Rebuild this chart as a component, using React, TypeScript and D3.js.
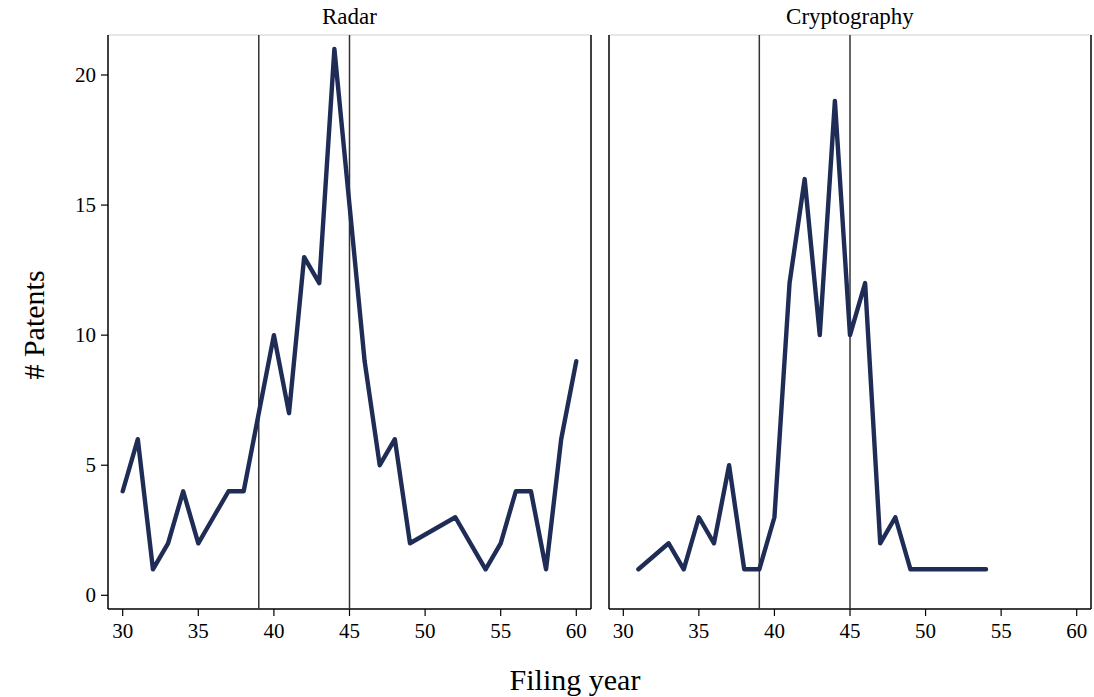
import React from 'react';
import * as d3 from 'd3';

const panelTitles = ['Radar', 'Cryptography'];

const radarYears = [30, 31, 32, 33, 34, 35, 36, 37, 38, 39, 40, 41, 42, 43, 44, 45, 46, 47, 48, 49, 52, 53, 54, 55, 56, 57, 58, 59, 60];
const radarCounts = [4, 6, 1, 2, 4, 2, 3, 4, 4, 7, 10, 7, 13, 12, 21, 15, 9, 5, 6, 2, 3, 2, 1, 2, 4, 4, 1, 6, 9];

const cryptoYears = [31, 33, 34, 35, 36, 37, 38, 39, 40, 41, 42, 43, 44, 45, 46, 47, 48, 49, 54];
const cryptoCounts = [1, 2, 1, 3, 2, 5, 1, 1, 3, 12, 16, 10, 19, 10, 12, 2, 3, 1, 1];

const eventYears = [39, 45];
const xTicks = [30, 35, 40, 45, 50, 55, 60];
const yTicks = [0, 5, 10, 15, 20];

const W = 1094;
const H = 697;
const FONT = '"Liberation Serif", "DejaVu Serif", serif';
const LINE = '#1e2c56';

const panels = [
  { left: 108, right: 591, x0: 122.7, x1: 576.3, years: radarYears, counts: radarCounts, yAxis: true },
  { left: 609, right: 1091, x0: 623.3, x1: 1076.7, years: cryptoYears, counts: cryptoCounts, yAxis: false },
];

const top = 35;
const bottom = 609;

const y = d3.scaleLinear().domain([0, 20]).range([595.3, 75]);

function Panel({ p, title }: { p: typeof panels[0]; title: string }) {
  const x = d3.scaleLinear().domain([30, 60]).range([p.x0, p.x1]);
  const pts = p.years.map((yr, i) => [yr, p.counts[i]] as [number, number]);
  const path = d3.line<[number, number]>().x(d => x(d[0])).y(d => y(d[1]))(pts) || '';
  return (
    <g>
      <text x={(p.left + p.right) / 2} y={24} textAnchor="middle" fontSize={23}>{title}</text>
      <line x1={p.left} x2={p.right} y1={top} y2={top} stroke="#cfcfcf" strokeWidth={1} />
      <line x1={p.left} x2={p.left} y1={top} y2={bottom} stroke="#000" strokeWidth={1.5} />
      <line x1={p.right} x2={p.right} y1={top} y2={bottom} stroke="#000" strokeWidth={1.5} />
      <line x1={p.left} x2={p.right} y1={bottom} y2={bottom} stroke="#000" strokeWidth={1.5} />
      {eventYears.map(e => (
        <line key={e} x1={x(e)} x2={x(e)} y1={top} y2={bottom} stroke="#333" strokeWidth={1.5} />
      ))}
      {xTicks.map(t => (
        <g key={t}>
          <line x1={x(t)} x2={x(t)} y1={bottom} y2={bottom + 7} stroke="#000" strokeWidth={1.2} />
          <text x={x(t)} y={bottom + 29} textAnchor="middle" fontSize={21}>{t}</text>
        </g>
      ))}
      {p.yAxis && yTicks.map(t => (
        <g key={t}>
          <line x1={p.left - 7} x2={p.left} y1={y(t)} y2={y(t)} stroke="#000" strokeWidth={1.2} />
          <text x={p.left - 12} y={y(t) + 6.5} textAnchor="end" fontSize={21}>{t}</text>
        </g>
      ))}
      <path d={path} fill="none" stroke={LINE} strokeWidth={4.4} strokeLinejoin="round" strokeLinecap="round" />
    </g>
  );
}

export default function App() {
  return (
    <svg width={W} height={H} style={{ position: 'absolute', left: 0, top: 0, background: '#fff' }} fontFamily={FONT}>
      <rect width={W} height={H} fill="#fff" />
      {panels.map((p, i) => <Panel key={i} p={p} title={panelTitles[i]} />)}
      <text x={575} y={690} textAnchor="middle" fontSize={30}>Filing year</text>
      <text transform={`translate(44,${325}) rotate(-90)`} textAnchor="middle" fontSize={30}># Patents</text>
    </svg>
  );
}
